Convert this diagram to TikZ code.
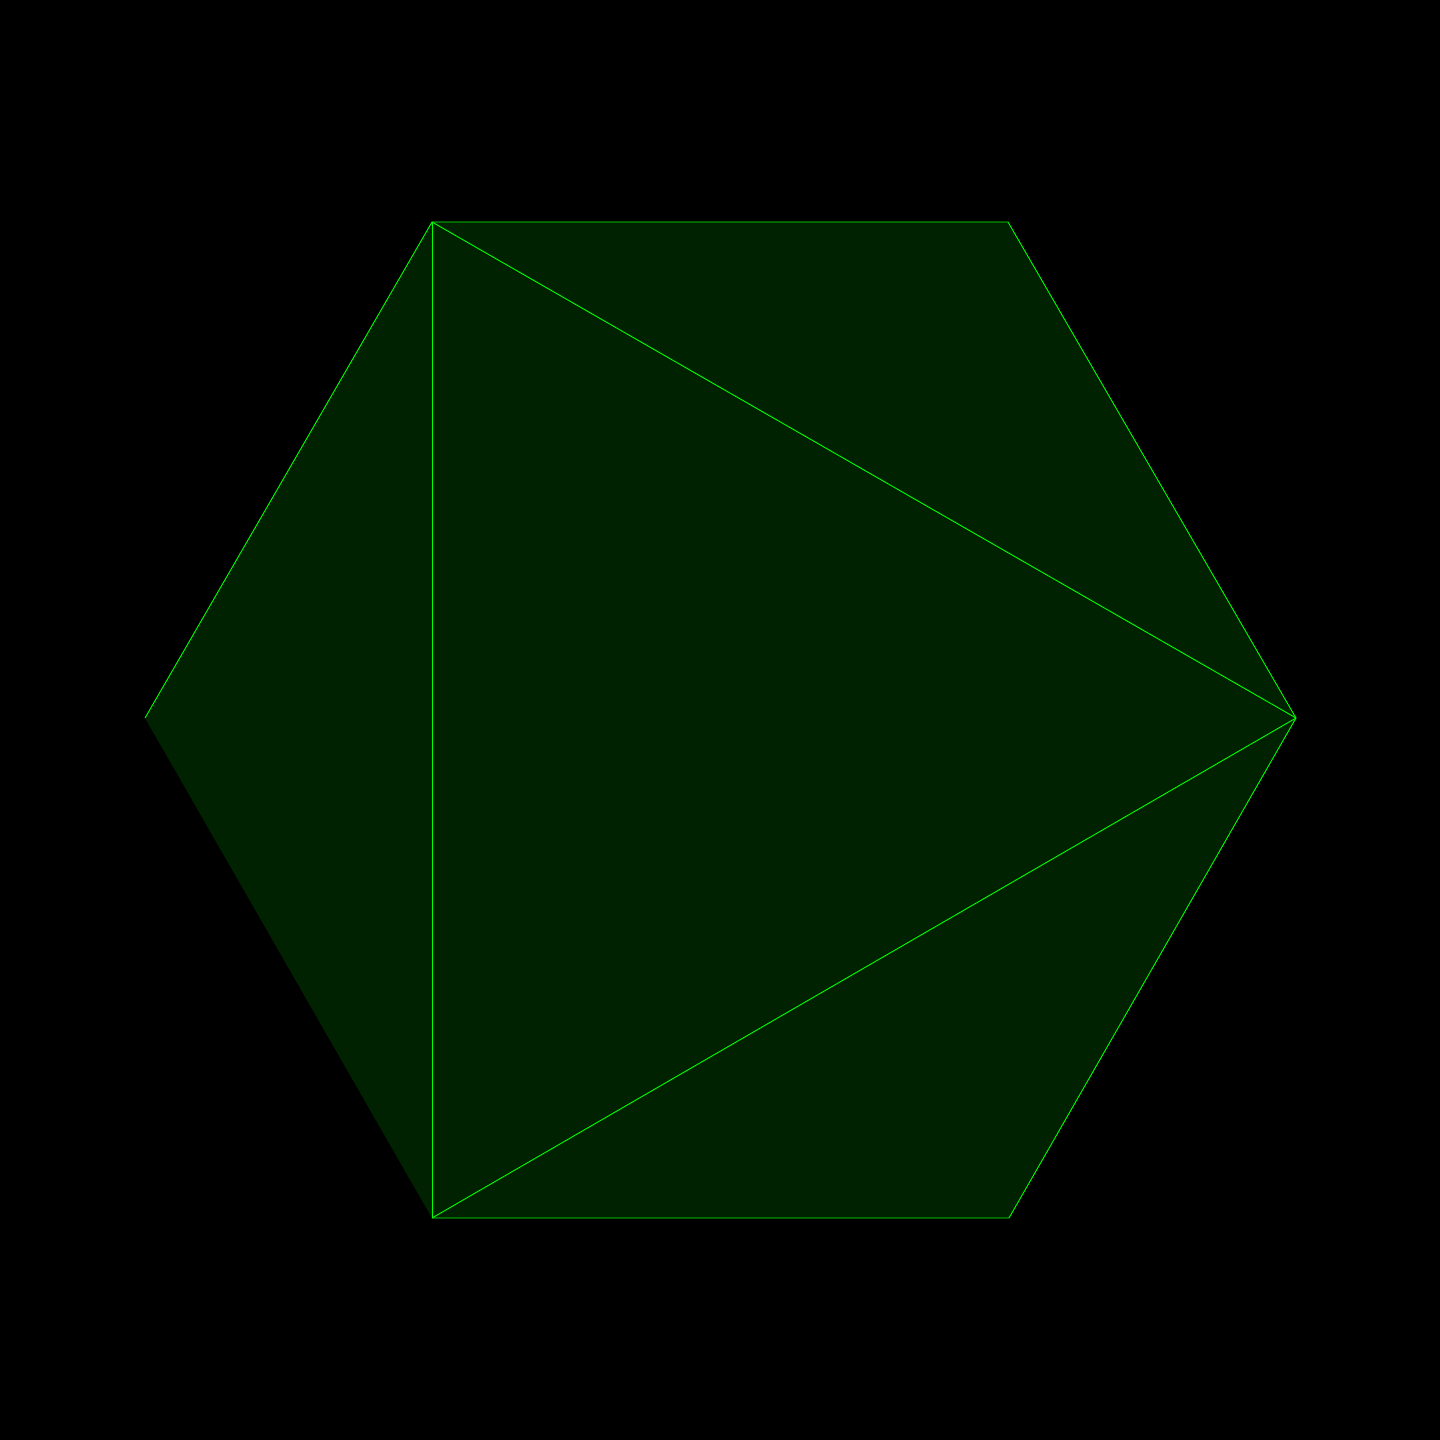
\documentclass[tikz,border=0pt]{standalone}
\definecolor{hexfill}{RGB}{0,34,0}
\definecolor{hexline}{RGB}{0,255,0}
\tikzset{edge/.style={draw=hexline,line width=0.9pt}}
\begin{document}
\begin{tikzpicture}[x=1pt,y=-1pt]
\fill[black] (0,0) rectangle (1440,1440);
\useasboundingbox (0,0) rectangle (1440,1440);
\coordinate (A) at (432,222);
\coordinate (B) at (1008,222);
\coordinate (C) at (1296,718);
\coordinate (D) at (1009,1218);
\coordinate (E) at (432,1218);
\coordinate (F) at (145,718);
\fill[hexfill] (A) -- (B) -- (C) -- (D) -- (E) -- (F) -- cycle;
\draw[edge] (F) -- (A) -- (B) -- (C) -- (D) -- (E);
\draw[edge] (A) -- (E);
\draw[edge] (A) -- (C);
\draw[edge] (C) -- (E);
\end{tikzpicture}
\end{document}
